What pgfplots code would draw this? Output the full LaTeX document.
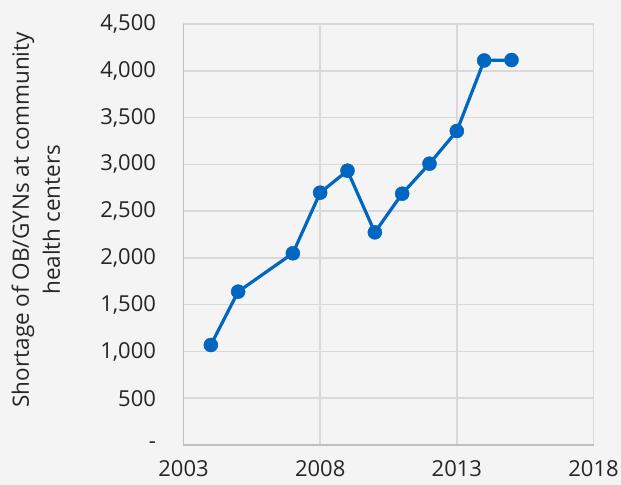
\documentclass[border=0pt]{standalone}
\usepackage{pgfplots}
\pgfplotsset{compat=1.18}
\usepackage{fontspec}
\setmainfont{Open Sans}
\definecolor{bgc}{HTML}{F4F4F4}
\definecolor{gridc}{HTML}{D9D9D9}
\definecolor{axc}{HTML}{BFBFBF}
\definecolor{linec}{HTML}{0066C0}
\begin{document}
\begin{tikzpicture}
\path[use as bounding box, fill=bgc] (-183.5bp,-40bp) rectangle (437.5bp,445bp);
\begin{axis}[
  at={(0,0)}, anchor=south west,
  scale only axis,
  width=410bp, height=421bp,
  xmin=2003, xmax=2018,
  ymin=0, ymax=4500,
  xtick={2003,2008,2013,2018},
  xticklabels={2003,2008,2013,2018},
  ytick={0,500,...,4500},
  yticklabels={-,500,{1,000},{1,500},{2,000},{2,500},{3,000},{3,500},{4,000},{4,500}},
  major tick length=0pt,
  grid=major,
  grid style={gridc, line width=1.5bp},
  axis lines*=left,
  axis line style={axc, line width=1.5bp},
  tick label style={font=\fontsize{22bp}{26bp}\selectfont, text=black!85},
  xticklabel style={yshift=-12bp},
  yticklabel style={xshift=-24bp},
  ylabel={Shortage of OB/GYNs at community\\health centers},
  ylabel style={at={(axis description cs:-0.36,0.535)}, anchor=center, align=center,
    font=\fontsize{22.5bp}{31bp}\selectfont, text=black!85},
  clip=false,
]
\addplot[color=linec, line width=3.2bp, mark=*, mark size=7bp, mark options={fill=linec, draw=linec, line width=0.5bp}] coordinates {
  (2004,1069) (2005,1639) (2007,2049) (2008,2697) (2009,2932) (2010,2273)
  (2011,2686) (2012,3007) (2013,3356) (2014,4110) (2015,4115)
};
\end{axis}
\end{tikzpicture}
\end{document}
